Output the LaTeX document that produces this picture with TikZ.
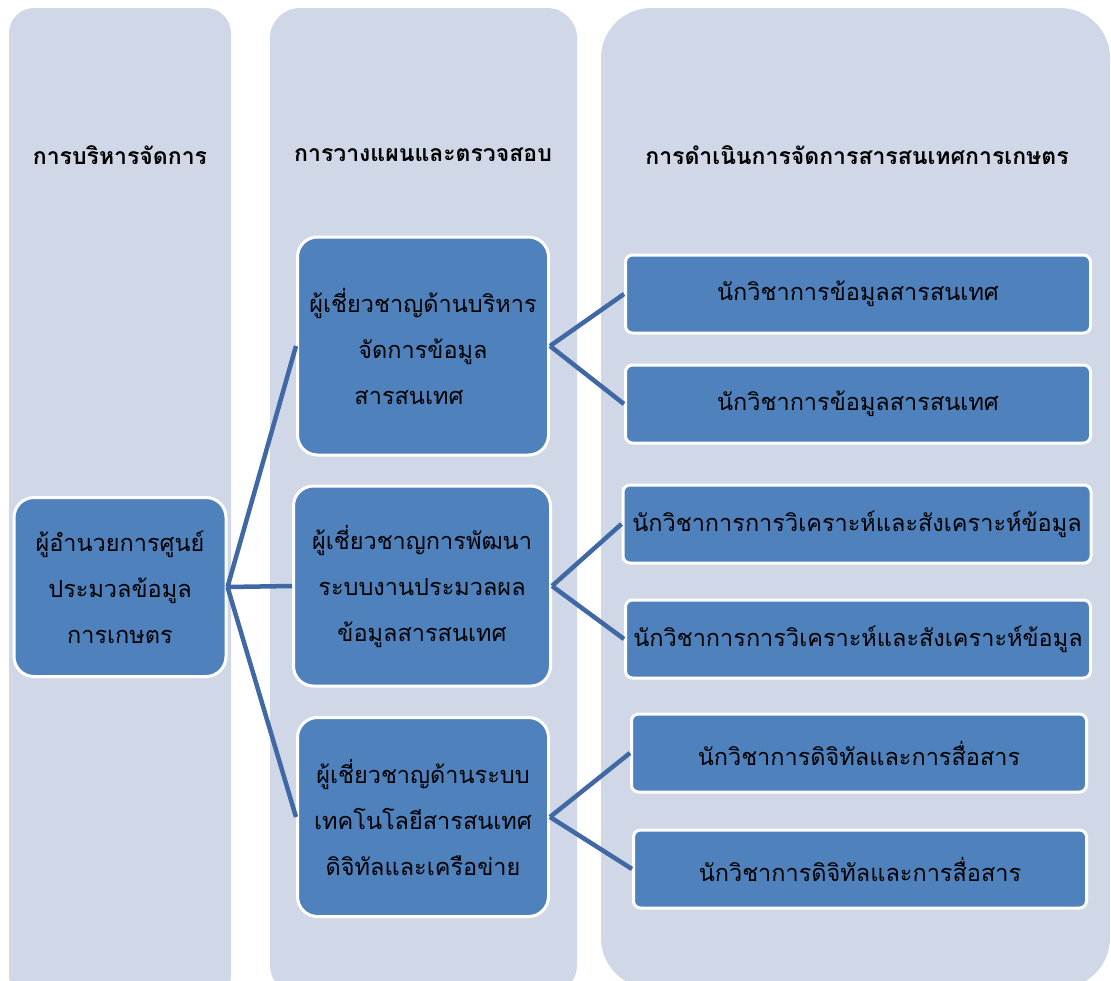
\documentclass[tikz,border=0pt]{standalone}
\usepackage{fontspec}
\newfontfamily\thaifont[Script=Thai]{Loma}
\usetikzlibrary{positioning}

\definecolor{panelbg}{RGB}{208,216,232}
\definecolor{boxblue}{RGB}{79,129,189}
\definecolor{linkblue}{RGB}{64,104,164}

\tikzset{
  panel/.style={fill=panelbg},
  head/.style={font=\thaifont\bfseries\fontsize{23}{27}\selectfont},
  bigbox/.style={draw=white, line width=3pt, fill=boxblue, rounded corners=20pt,
    align=center, inner sep=2pt, font=\thaifont\fontsize{23.5}{46}\selectfont},
  smallbox/.style={draw=white, line width=3pt, fill=boxblue, rounded corners=7pt,
    align=center, inner sep=2pt, minimum width=465pt, minimum height=78pt,
    font=\thaifont\fontsize{23.5}{46}\selectfont},
  link/.style={draw=linkblue, line width=4.5pt}
}

\begin{document}
\begin{tikzpicture}[x=1pt, y=-1pt]
  \useasboundingbox (0,0) rectangle (1111,980);
  \clip (0,0) rectangle (1111,980);

  % column panels
  \fill[panel, rounded corners=25pt] (9,8) rectangle (231,1000);
  \fill[panel, rounded corners=30pt] (270,8) rectangle (577,995);
  \fill[panel, rounded corners=50pt] (601,8) rectangle (1110,988);

  \node(head_admin) at(120, 155) [head] {การบริหารจัดการ};
  \node(head_plan)  at(423, 155) [head] {การวางแผนและตรวจสอบ};
  \node(head_work)  at(857, 155) [head] {การดำเนินการจัดการสารสนเทศการเกษตร};

  % boxes
  \node(director) at(120, 587) [bigbox, minimum width=212pt, minimum height=179pt]
    {ผู้อำนวยการศูนย์\\ประมวลข้อมูล\\การเกษตร};
  \node(exp_info) at(423, 346) [bigbox, minimum width=251pt, minimum height=218pt]
    {ผู้เชี่ยวชาญด้านบริหาร\\จัดการข้อมูล\\สารสนเทศ\hspace*{28pt}};
  \node(exp_dev)  at(422, 586) [bigbox, minimum width=257pt, minimum height=200pt]
    {ผู้เชี่ยวชาญการพัฒนา\\ระบบงานประมวลผล\\ข้อมูลสารสนเทศ};
  \node(exp_net)  at(423, 817) [bigbox, minimum width=251pt, minimum height=199pt]
    {ผู้เชี่ยวชาญด้านระบบ\\เทคโนโลยีสารสนเทศ\\ดิจิทัลและเครือข่าย};

  \node(data_a) at(858, 294) [smallbox] {นักวิชาการข้อมูลสารสนเทศ};
  \node(data_b) at(858, 404) [smallbox] {นักวิชาการข้อมูลสารสนเทศ};
  \node(anal_a) at(857, 524) [smallbox, minimum width=468pt] {นักวิชาการการวิเคราะห์และสังเคราะห์ข้อมูล};
  \node(anal_b) at(858, 639) [smallbox] {นักวิชาการการวิเคราะห์และสังเคราะห์ข้อมูล};
  \node(digi_a) at(859, 753) [smallbox, minimum width=455pt] {นักวิชาการดิจิทัลและการสื่อสาร};
  \node(digi_b) at(860, 869) [smallbox, minimum width=453pt] {นักวิชาการดิจิทัลและการสื่อสาร};

  % connectors
  \draw[link] (director.east) -- (exp_info.west);
  \draw[link] (director.east) -- (exp_dev.west);
  \draw[link] (director.east) -- (exp_net.west);
  \draw[link] (exp_info.east) -- (data_a.west);
  \draw[link] (exp_info.east) -- (data_b.west);
  \draw[link] (exp_dev.east) -- (anal_a.west);
  \draw[link] (exp_dev.east) -- (anal_b.west);
  \draw[link] (exp_net.east) -- (digi_a.west);
  \draw[link] (exp_net.east) -- (digi_b.west);
\end{tikzpicture}
\end{document}
